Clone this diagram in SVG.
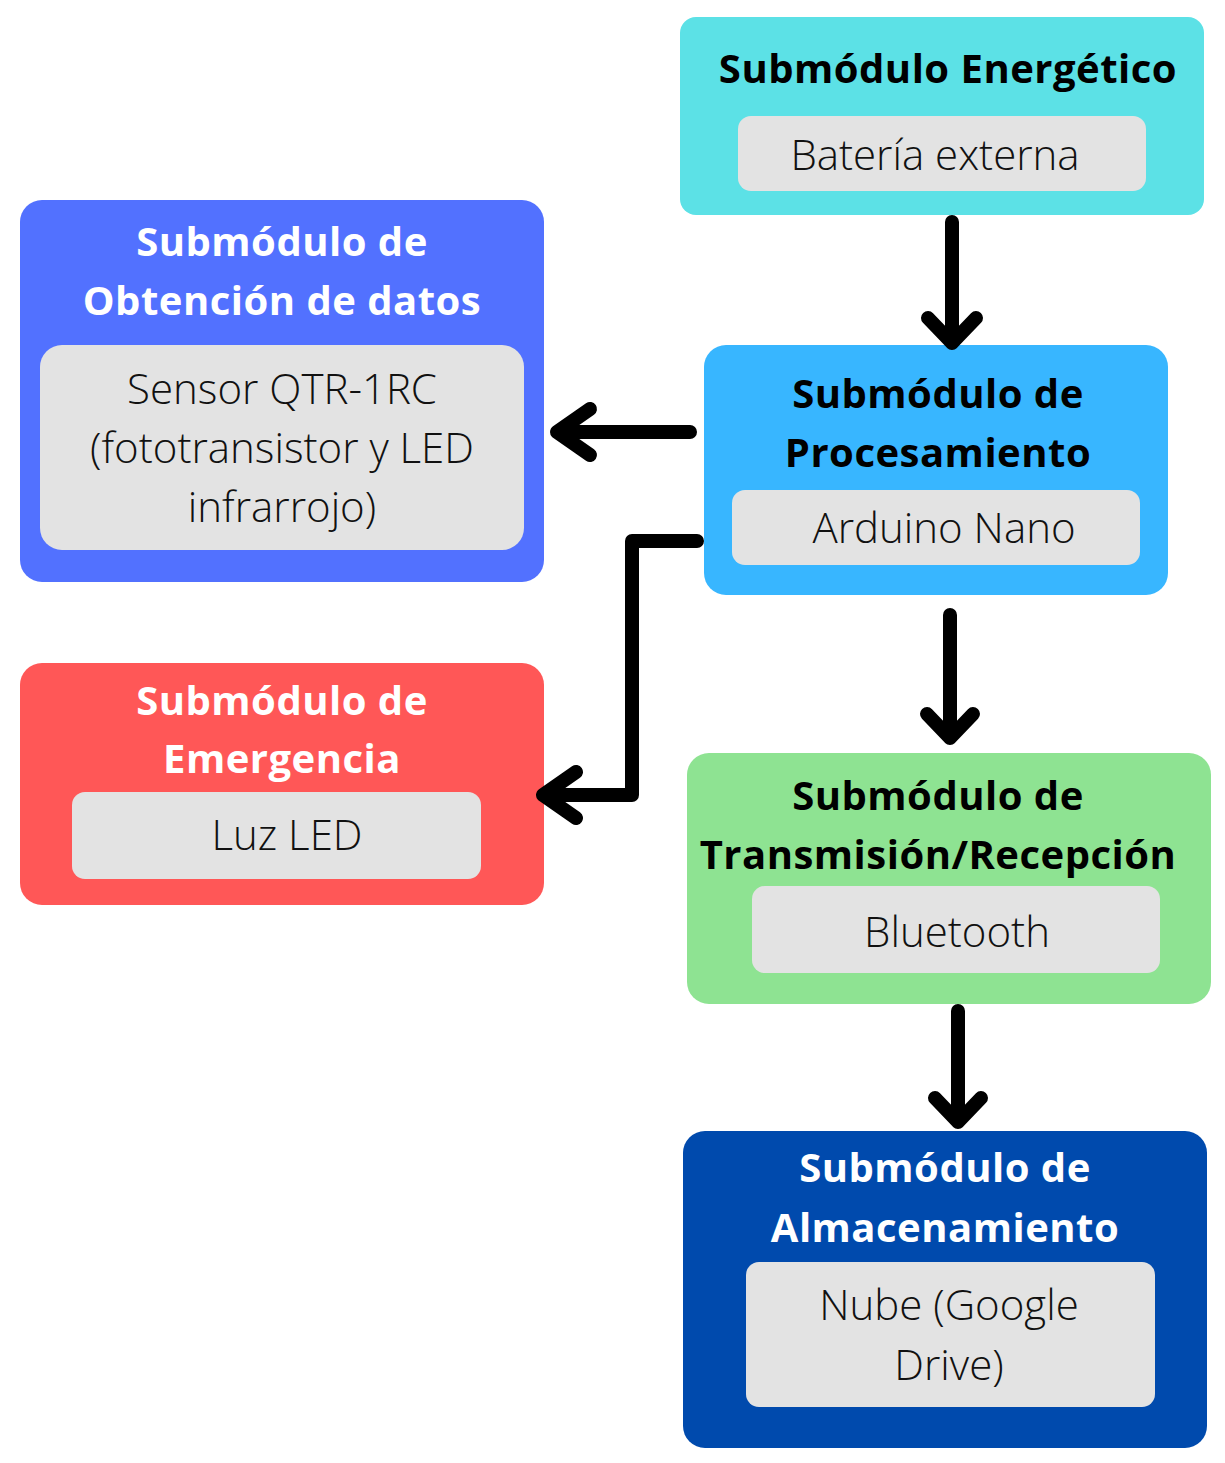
<svg xmlns="http://www.w3.org/2000/svg" width="1225" height="1463" viewBox="0 0 1225 1463">
<style>
.t{font-family:"Open Sans","Liberation Sans",sans-serif;font-weight:700;font-size:40px;letter-spacing:0.5px;text-anchor:middle}
.i{font-family:"Open Sans","Liberation Sans",sans-serif;font-weight:300;font-size:42px;text-anchor:middle;fill:#111}
.w{fill:#fff}
.k{fill:#000}
.in{fill:#e3e3e3}
.c{fill:none;stroke:#000;stroke-width:14;stroke-linecap:round;stroke-linejoin:round}
</style>
<rect width="1225" height="1463" fill="#fff"/>
<g id="energetico">
<rect x="680" y="17" width="524" height="198" rx="16" fill="#5ce1e6"/>
<text class="t k" x="948" y="83">Submódulo Energético</text>
<rect class="in" x="738" y="116" width="408" height="75" rx="13"/>
<text class="i" x="935" y="170">Batería externa</text>
</g>
<g id="obtencion">
<rect x="20" y="200" width="524" height="382" rx="22" fill="#5271ff"/>
<text class="t w" x="282" y="256">Submódulo de</text>
<text class="t w" x="282" y="315">Obtención de datos</text>
<rect class="in" x="40" y="345" width="484" height="205" rx="22"/>
<text class="i" x="282" y="404">Sensor QTR-1RC</text>
<text class="i" x="282" y="463">(fototransistor y LED</text>
<text class="i" x="282" y="522">infrarrojo)</text>
</g>
<g id="procesamiento">
<rect x="704" y="345" width="464" height="250" rx="22" fill="#38b6ff"/>
<text class="t k" x="938" y="408">Submódulo de</text>
<text class="t k" x="938" y="467">Procesamiento</text>
<rect class="in" x="732" y="490" width="408" height="75" rx="13"/>
<text class="i" x="944" y="543">Arduino Nano</text>
</g>
<g id="emergencia">
<rect x="20" y="663" width="524" height="242" rx="22" fill="#ff5757"/>
<text class="t w" x="282" y="715">Submódulo de</text>
<text class="t w" x="282" y="773">Emergencia</text>
<rect class="in" x="72" y="792" width="409" height="87" rx="13"/>
<text class="i" x="287" y="850">Luz LED</text>
</g>
<g id="transmision">
<rect x="687" y="753" width="524" height="251" rx="22" fill="#8ee392"/>
<text class="t k" x="938" y="810">Submódulo de</text>
<text class="t k" x="938" y="869">Transmisión/Recepción</text>
<rect class="in" x="752" y="886" width="408" height="87" rx="13"/>
<text class="i" x="957" y="947">Bluetooth</text>
</g>
<g id="almacenamiento">
<rect x="683" y="1131" width="524" height="317" rx="22" fill="#004aad"/>
<text class="t w" x="945" y="1182">Submódulo de</text>
<text class="t w" x="945" y="1242">Almacenamiento</text>
<rect class="in" x="746" y="1262" width="409" height="145" rx="13"/>
<text class="i" x="949" y="1320">Nube (Google</text>
<text class="i" x="949" y="1380">Drive)</text>
</g>
<g id="connectors">
<path class="c" d="M952 222V343M928 318L952 343L976 318"/>
<path class="c" d="M690 432H557M590 409L557 432L590 455"/>
<path class="c" d="M697 541H632V795H543M576 772L543 795L576 818"/>
<path class="c" d="M950 615V738M927 714L950 738L973 714"/>
<path class="c" d="M958 1011V1122M935 1098L958 1122L981 1098"/>
</g>
</svg>
